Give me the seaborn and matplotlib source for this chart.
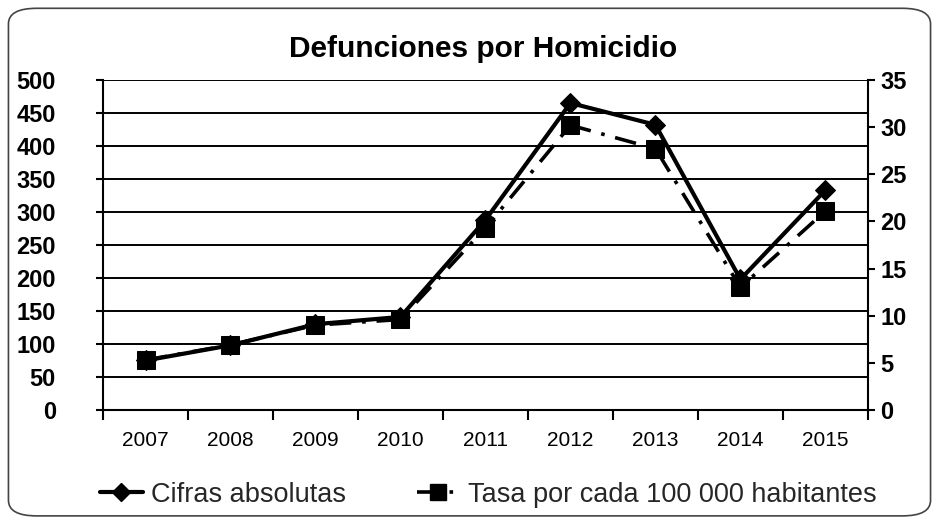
import matplotlib
matplotlib.use("Agg")
import matplotlib.pyplot as plt
import pandas as pd
import seaborn as sns
from matplotlib.patches import FancyBboxPatch
from matplotlib.lines import Line2D

# Datos
years = ["2007", "2008", "2009", "2010", "2011", "2012", "2013", "2014", "2015"]
cifras_absolutas = [75, 98, 130, 141, 288, 465, 432, 198, 333]
tasa_100k = [5.3, 6.9, 9.0, 9.6, 19.3, 30.2, 27.7, 13.0, 21.1]

df = pd.DataFrame({"year": years, "cifras": cifras_absolutas, "tasa": tasa_100k})

sns.set_theme(style="white")
plt.rcParams["font.family"] = ["Liberation Sans", "DejaVu Sans"]

fig = plt.figure(figsize=(9.39, 5.19), dpi=100)
ax = fig.add_axes([0.1097, 0.21, 0.8146, 0.636])
ax2 = ax.twinx()

# Serie principal (eje izquierdo)
sns.lineplot(data=df, x="year", y="cifras", ax=ax, color="black", lw=3,
             marker="D", markersize=10, markeredgecolor="black", legend=False, sort=False)
# Tasa (eje derecho)
sns.lineplot(data=df, x="year", y="tasa", ax=ax2, color="black", lw=2.6,
             marker="s", markersize=13, markeredgecolor="black", legend=False, sort=False)
ax2.lines[0].set_linestyle((0, (6, 3, 1, 3)))

ax.set_xlim(-0.5, len(years) - 0.5)
ax.set_ylim(0, 500)
ax2.set_ylim(0, 35)
ax.set_yticks(range(0, 501, 50))
ax2.set_yticks(range(0, 36, 5))
ax.set_xticks(range(len(years)))
ax.set_xticklabels(years)
ax.set_xticks([i - 0.5 for i in range(len(years) + 1)], minor=True)

# Cuadricula horizontal
ax.grid(False)
ax2.grid(False)
for v in range(50, 501, 50):
    ax.axhline(v, color="black", lw=1.4, zorder=0)

for a in (ax, ax2):
    for s in a.spines.values():
        s.set_visible(False)
ax.spines["left"].set_visible(True)
ax.spines["bottom"].set_visible(True)
ax2.spines["right"].set_visible(True)
for s in (ax.spines["left"], ax.spines["bottom"], ax2.spines["right"]):
    s.set_color("black")
    s.set_linewidth(1.5)

ax.tick_params(axis="y", direction="out", length=5, width=1.5, color="black",
               labelsize=17, pad=29, left=True)
ax.tick_params(axis="x", which="major", length=0, labelsize=15, pad=15, colors="black")
ax.tick_params(axis="x", which="minor", direction="out", length=7, width=1.5, color="black", bottom=True)
ax2.tick_params(axis="y", direction="out", length=5, width=1.5, color="black",
                labelsize=17, pad=4, right=True)
for lbl in ax.get_yticklabels() + ax2.get_yticklabels():
    lbl.set_fontweight("bold")
    lbl.set_color("black")
for lbl in ax.get_xticklabels():
    lbl.set_color("black")

ax.set_xlabel("")
ax.set_ylabel("")
ax2.set_ylabel("")

fig.text(0.515, 0.905, "Defunciones por Homicidio", ha="center", va="center",
         fontsize=21.5, fontweight="bold", color="black")

# Leyenda inferior
h1 = Line2D([], [], color="black", lw=3, marker="D", markersize=9)
h2 = Line2D([], [], color="black", lw=2.6, marker="s", markersize=11, linestyle=(0, (6, 3, 1, 3)))
fig.legend([h1, h2], ["Cifras absolutas", "Tasa por cada 100 000 habitantes"],
           loc="center", bbox_to_anchor=(0.52, 0.047), ncol=2, frameon=False,
           fontsize=19.5, handlelength=1.6, columnspacing=2.6, handletextpad=0.3)

# Borde redondeado del grafico
border = FancyBboxPatch((0.009, 0.006), 0.982, 0.978, boxstyle="round,pad=0,rounding_size=0.03",
                        transform=fig.transFigure, fill=False, edgecolor="#444444", lw=1.2)
fig.patches.append(border)

fig.savefig("out.png", dpi=100, facecolor="white")
